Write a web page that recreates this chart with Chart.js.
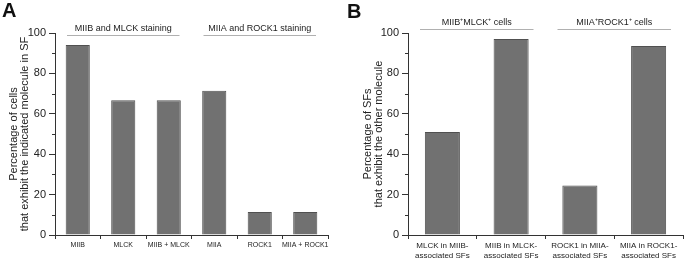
<!DOCTYPE html>
<html>
<head>
<meta charset="utf-8">
<script src="https://cdn.jsdelivr.net/npm/chart.js@4.4.0/dist/chart.umd.min.js"></script>
<style>
  body { margin: 0; background: #fff; font-family: "Liberation Sans", Arial, sans-serif; }
  .panel { position: absolute; top: 0; height: 259px; }
  .letter { position: absolute; font-weight: bold; font-size: 20px; color: #111; }
</style>
</head>
<body>
<div class="panel" style="left:0;width:340px"><canvas id="chartA" width="340" height="259"></canvas></div>
<div class="panel" style="left:340px;width:345px"><canvas id="chartB" width="345" height="259"></canvas></div>
<div class="letter" style="left:2px;top:-1px">A</div>
<div class="letter" style="left:347px;top:0px">B</div>
<script>
// panel A data
var labelsA = ["MIIB", "MLCK", "MIIB + MLCK", "MIIA", "ROCK1", "MIIA + ROCK1"];
var valuesA = [94, 66.7, 66.7, 71.4, 11.4, 11.4];
var groupsA = [
    { text: "MIIB and MLCK staining", from: 0, to: 2 },
    { text: "MIIA and ROCK1 staining", from: 3, to: 5 }
];
var titleA = ["Percentage of cells", "that exhibit the indicated molecule in SF"];

// panel B data
var labelsB = [["MLCK in MIIB-", "associated SFs"], ["MIIB in MLCK-", "associated SFs"],
               ["ROCK1 in MIIA-", "associated SFs"], ["MIIA in ROCK1-", "associated SFs"]];
var valuesB = [51, 97, 24.5, 93.6];
var groupsB = [
    { text: "MIIB\u207AMLCK\u207A cells", from: 0, to: 1 },
    { text: "MIIA\u207AROCK1\u207A cells", from: 2, to: 3 }
];
var titleB = ["Percentage of SFs", "that exhibit the other molecule"];

var FONT = "'Liberation Sans', Arial, sans-serif";

// group lines + captions above the bars, and the short minor ticks on y
var extras = {
    id: 'extras',
    afterDraw: function (chart, args, opts) {
        var ctx = chart.ctx;
        var x = chart.scales.x, y = chart.scales.y;
        var half = (x.getPixelForValue(1) - x.getPixelForValue(0)) / 2;
        ctx.save();
        ctx.strokeStyle = '#333';
        ctx.lineWidth = 1;
        [10, 30, 50, 70, 90].forEach(function (v) {
            var py = Math.round(y.getPixelForValue(v)) + 0.5;
            ctx.beginPath();
            ctx.moveTo(x.left - 3, py);
            ctx.lineTo(x.left, py);
            ctx.stroke();
        });
        ctx.strokeStyle = '#b0b0b0';
        ctx.fillStyle = '#222';
        ctx.font = '9px ' + FONT;
        ctx.textAlign = 'center';
        ctx.textBaseline = 'middle';
        opts.groups.forEach(function (g) {
            var l = x.getPixelForValue(g.from) - half + opts.inset;
            var r = x.getPixelForValue(g.to) + half - opts.inset;
            var ly = Math.round(chart.chartArea.top + opts.lineOff) + 0.5;
            ctx.beginPath();
            ctx.moveTo(l, ly);
            ctx.lineTo(r, ly);
            ctx.stroke();
            ctx.fillText(g.text, (l + r) / 2, ly - opts.textOff);
        });
        ctx.restore();
    }
};

function makeChart(id, labels, values, groups, title, o) {
    return new Chart(document.getElementById(id).getContext('2d'), {
        type: 'bar',
        data: {
            labels: labels,
            datasets: [{
                data: values,
                backgroundColor: '#717171',
                borderColor: '#505050',
                borderWidth: 1,
                categoryPercentage: 1,
                barPercentage: o.barPct
            }]
        },
        options: {
            responsive: false,
            animation: false,
            layout: { padding: { top: 33, right: o.right, left: 0, bottom: 0 } },
            plugins: {
                legend: { display: false },
                tooltip: { enabled: false },
                extras: { groups: groups, inset: 12, lineOff: o.lineOff, textOff: 7 }
            },
            scales: {
                x: {
                    grid: { drawOnChartArea: false, tickLength: 4, color: '#333', offset: true },
                    border: { color: '#333' },
                    ticks: { color: '#222', font: { family: FONT, size: o.xSize, lineHeight: 1.25 }, padding: 2, maxRotation: 0, autoSkip: false },
                    afterFit: function (s) { s.height = 24; }
                },
                y: {
                    min: 0, max: 100,
                    ticks: { stepSize: 20, color: '#222', font: { family: FONT, size: 11 }, padding: 3 },
                    grid: { drawOnChartArea: false, tickLength: 6, color: '#333' },
                    border: { color: '#333' },
                    title: { display: true, text: title, color: '#222', font: { family: FONT, size: 11, lineHeight: 1.05 }, padding: { top: o.titlePad, bottom: 0 } },
                    afterFit: function (s) { s.width = o.yWidth; }
                }
            }
        },
        plugins: [extras]
    });
}

makeChart('chartA', labelsA, valuesA, groupsA, titleA, { barPct: 0.53, right: 12, yWidth: 55, lineOff: 1.5, xSize: 7, titlePad: 8 });
makeChart('chartB', labelsB, valuesB, groupsB, titleB, { barPct: 0.51, right: 2, yWidth: 68, lineOff: -4, xSize: 8, titlePad: 22 });
</script>
</body>
</html>
